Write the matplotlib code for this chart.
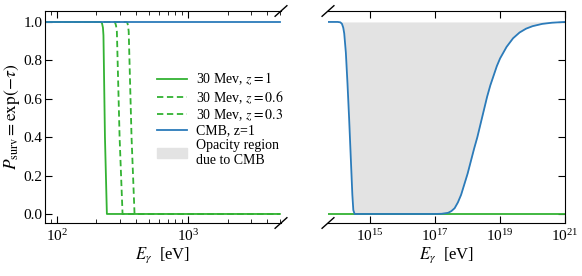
import numpy as np
import matplotlib
matplotlib.use("Agg")
import matplotlib.pyplot as plt

plt.rcParams['font.family'] = ['Liberation Serif', 'DejaVu Serif']
plt.rcParams['mathtext.fontset'] = 'stix'

# Left panel: 30 MeV curves (E in eV, survival probability)
E_z1 = [80, 215, 220, 224, 226, 232, 240, 5000]
P_z1 = [1.0, 1.0, 0.995, 0.97, 0.93, 0.4, 0.0, 0.0]
E_z06 = [80, 272, 278, 282, 286, 300, 316, 5000]
P_z06 = [1.0, 1.0, 0.995, 0.98, 0.95, 0.4, 0.0, 0.0]
E_z03 = [80, 338, 344, 348, 352, 370, 390, 5000]
P_z03 = [1.0, 1.0, 0.995, 0.98, 0.95, 0.4, 0.0, 0.0]
E_cmb_left = [80, 5000]
P_cmb_left = [1.0, 1.0]

# Right panel: CMB curve (log10 E in eV, survival probability)
logE_cmb = [13.7, 14.0, 14.08, 14.13, 14.17, 14.2, 14.25, 14.3, 14.35, 14.4, 14.45, 14.48,
            14.52, 15.0, 16.0, 17.0, 17.2, 17.4, 17.5, 17.6, 17.7, 17.8, 17.9, 18.0, 18.1,
            18.2, 18.3, 18.4, 18.5, 18.6, 18.7, 18.8, 18.9, 19.0, 19.2, 19.4, 19.6, 19.8,
            20.0, 20.3, 20.6, 21.0]
P_cmb = [1.0, 1.0, 0.998, 0.99, 0.97, 0.94, 0.84, 0.68, 0.5, 0.3, 0.1, 0.02,
         0.0, 0.0, 0.0, 0.0, 0.001, 0.006, 0.015, 0.03, 0.06, 0.10, 0.155, 0.21, 0.275,
         0.34, 0.40, 0.47, 0.54, 0.61, 0.67, 0.72, 0.77, 0.81, 0.87, 0.915, 0.945, 0.965,
         0.978, 0.99, 0.996, 1.0]
E_green_right = [10**13.7, 1e21]
P_green_right = [0.0, 0.0]

green = '#33b233'
blue = '#2b7bba'

fig = plt.figure(figsize=(5.82, 2.76), dpi=100)
ax1 = fig.add_axes([45/582, 1-223/276, 236/582, 212/276])
ax2 = fig.add_axes([328/582, 1-223/276, 237/582, 212/276])

lw = 1.3
ax1.plot(E_z1, P_z1, color=green, lw=lw, label=r'30 Mev, $z = 1$')
ax1.plot(E_z06, P_z06, color=green, lw=lw, ls=(0, (3.5, 2)), label=r'30 Mev, $z = 0.6$')
ax1.plot(E_z03, P_z03, color=green, lw=lw, ls=(0, (3.5, 2)), label=r'30 Mev, $z = 0.3$')
ax1.plot(E_cmb_left, P_cmb_left, color=blue, lw=lw, label='CMB, z=1')
ax1.fill_between([], [], [], color='#e3e3e3', label='Opacity region\ndue to CMB')
ax1.set_xscale('log')
ax1.set_xlim(81, 5100)
ylim = (-0.047, 1.057)
ax1.set_ylim(*ylim)
ax1.set_yticks([0.0, 0.2, 0.4, 0.6, 0.8, 1.0])
ax1.set_xlabel(r'$E_\gamma$  [eV]', fontsize=12, labelpad=1)
ax1.set_ylabel(r'$P_{\rm surv} = \exp(-\tau)$', fontsize=12.5)
ax1.yaxis.set_label_coords(-0.098, 0.5)
ax1.spines['right'].set_visible(False)
ax1.tick_params(which='both', direction='in', top=True, right=False, labelsize=11)
ax1.tick_params(axis='y', pad=2)
ax1.tick_params(which='major', length=5)
ax1.tick_params(which='minor', length=3)
leg = ax1.legend(loc='upper left', bbox_to_anchor=(0.45, 0.745), frameon=False, fontsize=10,
                 handlelength=2.2, handletextpad=0.6, labelspacing=0.12, borderaxespad=0.0)

E_cmb = [10**v for v in logE_cmb]
ax2.fill_between(E_cmb, P_cmb, 1.0, color='#e3e3e3', lw=0)
ax2.plot(E_green_right, P_green_right, color=green, lw=lw)
ax2.plot(E_cmb, P_cmb, color=blue, lw=lw)
ax2.set_xscale('log')
ax2.set_xlim(10**13.7, 1e21)
ax2.set_ylim(*ylim)
ax2.set_yticks([0.0, 0.2, 0.4, 0.6, 0.8, 1.0])
ax2.set_xticks([1e15, 1e17, 1e19, 1e21])
ax2.xaxis.set_minor_locator(matplotlib.ticker.NullLocator())
ax2.set_xlabel(r'$E_\gamma$  [eV]', fontsize=12, labelpad=1)
ax2.spines['left'].set_visible(False)
ax2.yaxis.tick_right()
ax2.tick_params(which='both', direction='in', top=True, left=False, right=True,
                labelright=False, labelleft=False, labelsize=11)
ax2.tick_params(which='major', length=5)

# break marks
d = 0.025
kw = dict(color='k', clip_on=False, lw=1)
ax1.plot((1 - d, 1 + d), (-d, d), transform=ax1.transAxes, **kw)
ax1.plot((1 - d, 1 + d), (1 - d, 1 + d), transform=ax1.transAxes, **kw)
ax2.plot((-d, d), (-d, d), transform=ax2.transAxes, **kw)
ax2.plot((-d, d), (1 - d, 1 + d), transform=ax2.transAxes, **kw)

fig.savefig('out.png', dpi=100)
